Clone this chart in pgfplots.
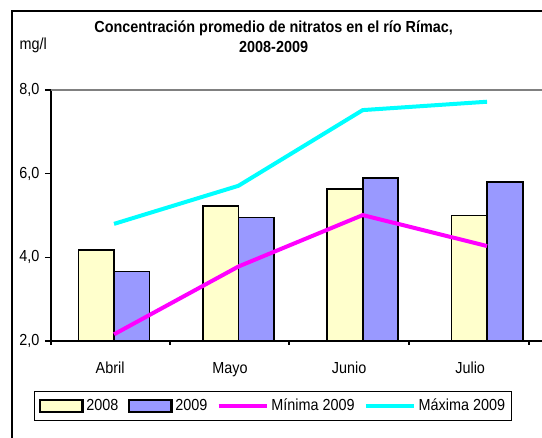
\documentclass[border=0pt]{standalone}
\usepackage{fontspec}
\setmainfont{Liberation Sans}[FakeStretch=0.9]
\usepackage{pgfplots}
\pgfplotsset{compat=1.18}
\definecolor{c2008}{HTML}{FFFFCC}
\definecolor{c2009}{HTML}{9999FF}
\definecolor{cmin}{HTML}{FF00FF}
\definecolor{cmax}{HTML}{00FFFF}
\begin{document}
\fontsize{12}{14}\selectfont
\begin{tikzpicture}
\useasboundingbox (0,0) rectangle (406.5pt,327.75pt);
\begin{axis}[
  at={(38.25pt,72pt)}, anchor=south west,
  scale only axis, width=372.75pt, height=188.25pt,
  xmin=-0.507, xmax=3.49, ymin=2, ymax=8,
  axis lines=left, axis line style={-, black, line width=1pt},
  xtick={-0.032,0.933,1.89,2.864},
  xticklabels={Abril,Mayo,Junio,Julio},
  xtick style={draw=none},
  xticklabel style={anchor=north, text height=9pt, text depth=2.5pt, yshift=-7pt},
  ytick={2,4,6,8},
  tick align=outside, major tick length=4.5pt,
  ytick style={black, line width=1pt},
  yticklabel style={/pgf/number format/.cd, fixed, fixed zerofill, precision=1, use comma, assume math mode=true},
  title={Concentración promedio de nitratos en el río Rímac,\\2008-2009},
  title style={at={(axis description cs:0.448,1.18)}, anchor=center, align=center, font=\bfseries\fontsize{12}{15.5}\selectfont},
  ylabel={mg/l},
  every axis y label/.style={at={(axis description cs:-0.036,1.178)}, anchor=center},
  legend columns=4,
  legend style={at={(axis description cs:-0.0342,-0.199)}, anchor=north west, draw=black, line width=0.8pt,
    font=\fontsize{12}{14}\selectfont, inner xsep=3pt, inner ysep=3.5pt,
    /tikz/every even column/.append style={column sep=5pt}},
]
\addplot[ybar, bar width=0.286, bar shift=-0.143, fill=c2008, draw=black, line width=1.3pt,
  legend image code/.code={\draw[fill=c2008, draw=black, line width=1.8pt] (0pt,-4.5pt) rectangle (32pt,4.5pt);}]
  coordinates {(0,4.18) (1,5.22) (2,5.63) (3,5.00)};
\addlegendentry{2008}
\addplot[ybar, bar width=0.286, bar shift=0.143, fill=c2009, draw=black, line width=1.3pt,
  legend image code/.code={\draw[fill=c2009, draw=black, line width=1.8pt] (0pt,-4.5pt) rectangle (32pt,4.5pt);}]
  coordinates {(0,3.66) (1,4.95) (2,5.89) (3,5.80)};
\addlegendentry{2009}
\addplot[sharp plot, cmin, line width=3pt, mark=none,
  legend image code/.code={\draw[cmin, line width=3pt] (0pt,0pt) -- (36pt,0pt);}]
  coordinates {(0,2.16) (1,3.78) (2,5.01) (3,4.27)};
\addlegendentry{Mínima 2009}
\addplot[sharp plot, cmax, line width=3pt, mark=none,
  legend image code/.code={\draw[cmax, line width=3pt] (0pt,0pt) -- (36pt,0pt);}]
  coordinates {(0,4.80) (1,5.71) (2,7.52) (3,7.72)};
\addlegendentry{Máxima 2009}
\end{axis}
\draw[gray, line width=1.3pt] (38.25pt,260.25pt) -- (420pt,260.25pt);
\foreach \x in {38.25,127.5,216.75,306.75,396.75}
  \draw[black, line width=1pt] (\x pt,72pt) -- (\x pt,69pt);
\draw[black, line width=1pt] (9pt,-5pt) -- (9pt,319.5pt) -- (420pt,319.5pt);
\end{tikzpicture}
\end{document}
